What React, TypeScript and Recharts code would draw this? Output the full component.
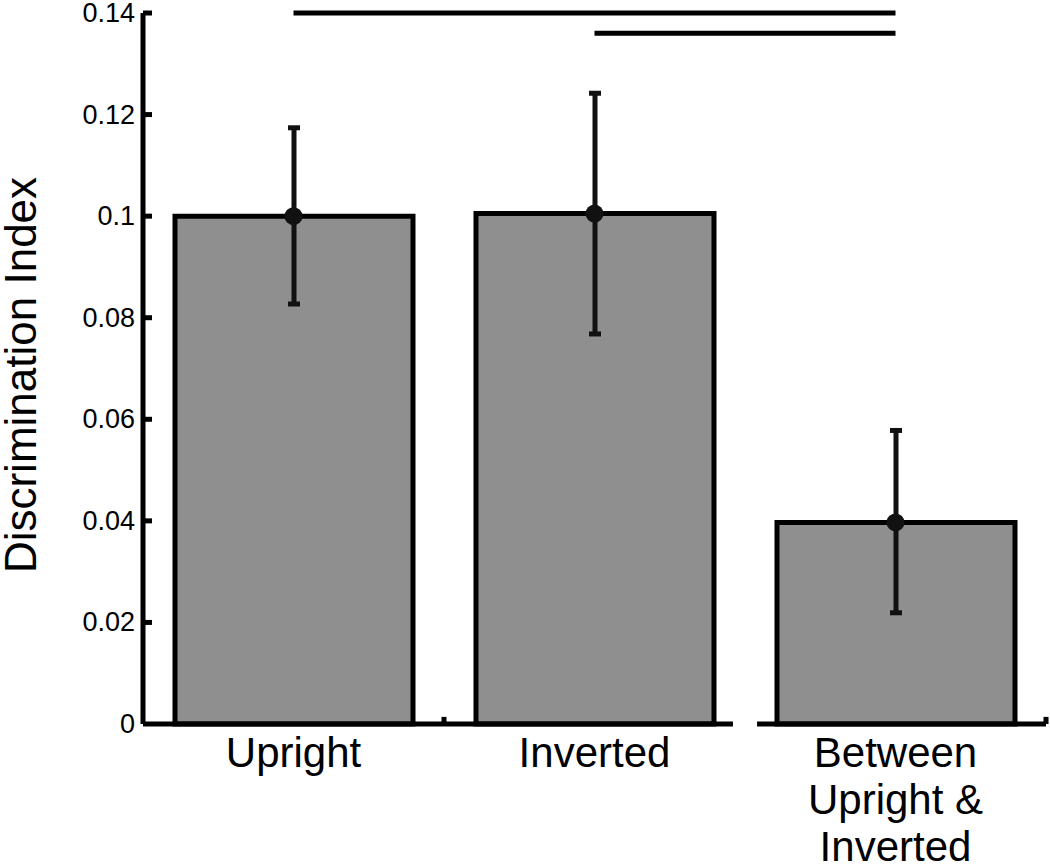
import React from 'react';
import {
  ComposedChart,
  Bar,
  Line,
  XAxis,
  YAxis,
  ErrorBar,
  ReferenceLine,
} from 'recharts';

const categories = ['Upright', 'Inverted', 'Between\nUpright &\nInverted'];
const positions = [1, 2, 3];
const means = [0.1, 0.1005, 0.0397];
const lower = [0.0827, 0.0768, 0.0219];
const upper = [0.1174, 0.1242, 0.0578];
const yTicks = [0, 0.02, 0.04, 0.06, 0.08, 0.1, 0.12, 0.14];
const yTickLabels = ['0', '0.02', '0.04', '0.06', '0.08', '0.1', '0.12', '0.14'];
// significance brackets: [from, to, height]
const sigLines = [
  [1, 3, 0.14],
  [2, 3, 0.136],
];
// broken x-axis segments and small minor ticks
const axisSegments = [
  [0.5, 2.46],
  [2.54, 3.5],
];
const axisMinorTicks = [1.5, 3.5];

const data = positions.map((x, i) => ({
  x,
  name: categories[i],
  mean: means[i],
  err: [means[i] - lower[i], upper[i] - means[i]],
}));

const FONT = '"Liberation Sans", Arial, Helvetica, sans-serif';

const YTick = (props: any) => {
  const { x, y, payload } = props;
  return (
    <g>
      {payload.value !== 0 && (
        <line x1={x} x2={x + 9} y1={y} y2={y} stroke="#000" strokeWidth={5} />
      )}
      <text
        x={x - 8}
        y={y}
        dy={9}
        textAnchor="end"
        fontSize={27}
        fontFamily={FONT}
        fill="#000"
      >
        {yTickLabels[yTicks.indexOf(payload.value)] ?? String(payload.value)}
      </text>
    </g>
  );
};

const XTick = (props: any) => {
  const { x, y, payload } = props;
  const idx = positions.indexOf(payload.value);
  const lines = (categories[idx] || '').split('\n');
  return (
    <g>
      {lines.map((l, i) => (
        <text
          key={i}
          x={x}
          y={y + 43 + i * 47}
          textAnchor="middle"
          fontSize={42}
          fontFamily={FONT}
          fill="#000"
        >
          {l}
        </text>
      ))}
    </g>
  );
};

export default function App() {
  return (
    <div style={{ position: 'absolute', left: 0, top: 0, width: 1050, height: 868, background: '#fff' }}>
      <ComposedChart
        width={1050}
        height={868}
        data={data}
        margin={{ top: 13, right: 4, bottom: 0, left: 0 }}
      >
        <XAxis
          type="number"
          dataKey="x"
          domain={[0.5, 3.5]}
          ticks={positions}
          axisLine={false}
          tickLine={false}
          tickSize={0}
          tickMargin={0}
          height={144}
          tick={<XTick />}
          interval={0}
        />
        <YAxis
          type="number"
          domain={[0, 0.14]}
          ticks={yTicks}
          width={143}
          axisLine={{ stroke: '#000', strokeWidth: 5 }}
          tickLine={false}
          tickSize={0}
          tickMargin={0}
          tick={<YTick />}
          interval={0}
          label={{
            content: () => (
              <text
                x={36}
                y={375}
                transform="rotate(-90, 36, 375)"
                textAnchor="middle"
                fontSize={44}
                fontFamily={FONT}
                fill="#000"
              >
                Discrimination Index
              </text>
            ),
          }}
        />
        <Bar
          dataKey="mean"
          barSize={238}
          fill="#8f8f8f"
          stroke="#000"
          strokeWidth={5}
          isAnimationActive={false}
        >
          <ErrorBar dataKey="err" width={6} stroke="#111" strokeWidth={5} direction="y" />
        </Bar>
        <Line
          dataKey="mean"
          stroke="none"
          strokeWidth={0}
          dot={{ r: 9, fill: '#111', stroke: 'none' }}
          activeDot={false}
          isAnimationActive={false}
        />
        {axisSegments.map(([a, b], i) => (
          <ReferenceLine
            key={'ax' + i}
            segment={[{ x: a, y: 0 }, { x: b, y: 0 }]}
            stroke="#000"
            strokeWidth={5}
            ifOverflow="visible"
          />
        ))}
        {axisMinorTicks.map((t, i) => (
          <ReferenceLine
            key={'mt' + i}
            segment={[{ x: t, y: 0 }, { x: t, y: 0.0014 }]}
            stroke="#000"
            strokeWidth={5}
            ifOverflow="visible"
          />
        ))}
        {sigLines.map(([a, b, h], i) => (
          <ReferenceLine
            key={'sig' + i}
            segment={[{ x: a, y: h }, { x: b, y: h }]}
            stroke="#000"
            strokeWidth={5}
            ifOverflow="visible"
          />
        ))}
      </ComposedChart>
    </div>
  );
}
